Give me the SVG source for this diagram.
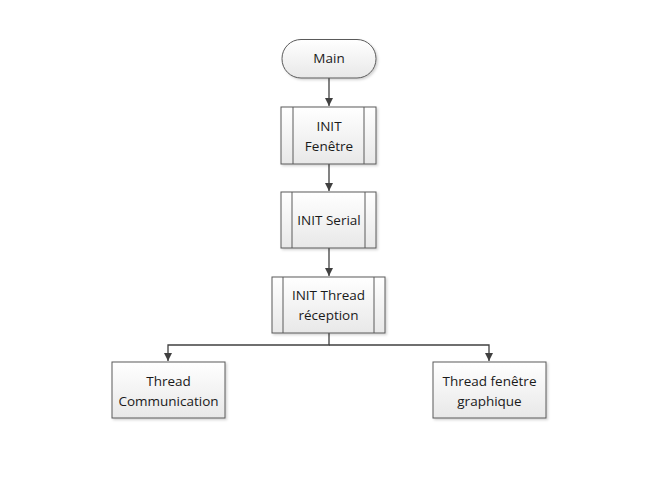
<svg xmlns="http://www.w3.org/2000/svg" width="667" height="496" viewBox="0 0 667 496">
<defs>
<linearGradient id="g" x1="0" y1="0" x2="0" y2="1">
<stop offset="0" stop-color="#ffffff"/>
<stop offset="1" stop-color="#e8e8e8"/>
</linearGradient>
<filter id="sh" x="-10%" y="-10%" width="130%" height="130%">
<feDropShadow dx="1.5" dy="1.5" stdDeviation="1" flood-color="#000" flood-opacity="0.18"/>
</filter>
<marker id="ar" markerWidth="10" markerHeight="10" refX="8" refY="4" orient="auto" markerUnits="userSpaceOnUse">
<path d="M0,0 L8,4 L0,8 Z" fill="#404040"/>
</marker>
</defs>
<style>
.box{fill:url(#g);stroke:#5a5a5a;stroke-width:1;filter:url(#sh)}
.in{stroke:#5a5a5a;stroke-width:1}
.t{font-family:"Open Sans","Liberation Sans",sans-serif;font-size:13.5px;fill:#1a1a1a;text-anchor:middle}
.c{fill:none;stroke:#404040;stroke-width:1.3}
</style>
<rect width="667" height="496" fill="#fff"/>
<g id="connectors">
<line class="c" x1="329" y1="78" x2="329" y2="106" marker-end="url(#ar)"/>
<line class="c" x1="329" y1="164" x2="329" y2="191" marker-end="url(#ar)"/>
<line class="c" x1="329" y1="248" x2="329" y2="276" marker-end="url(#ar)"/>
<polyline class="c" points="329,333 329,345 168,345 168,361" marker-end="url(#ar)"/>
<polyline class="c" points="329,345 489,345 489,361" marker-end="url(#ar)"/>
</g>
<g id="main">
<rect class="box" x="282" y="39.5" width="94" height="38.5" rx="19" ry="19"/>
<text class="t" x="329" y="63">Main</text>
</g>
<g id="init-fenetre">
<rect class="box" x="281" y="107" width="95" height="57"/>
<line class="in" x1="293" y1="107" x2="293" y2="164"/>
<line class="in" x1="364" y1="107" x2="364" y2="164"/>
<text class="t" x="329" y="131">INIT</text>
<text class="t" x="329" y="151">Fenêtre</text>
</g>
<g id="init-serial">
<rect class="box" x="281" y="192" width="95" height="56"/>
<line class="in" x1="292" y1="192" x2="292" y2="248"/>
<line class="in" x1="365" y1="192" x2="365" y2="248"/>
<text class="t" x="329" y="225">INIT Serial</text>
</g>
<g id="init-thread">
<rect class="box" x="272" y="277" width="113" height="56"/>
<line class="in" x1="283" y1="277" x2="283" y2="333"/>
<line class="in" x1="374" y1="277" x2="374" y2="333"/>
<text class="t" x="328.5" y="300">INIT Thread</text>
<text class="t" x="328.5" y="320">réception</text>
</g>
<g id="thread-comm">
<rect class="box" x="112" y="362" width="113" height="56"/>
<text class="t" x="168.5" y="386">Thread</text>
<text class="t" x="168.5" y="406">Communication</text>
</g>
<g id="thread-fenetre">
<rect class="box" x="433" y="362" width="113" height="56"/>
<text class="t" x="489.5" y="386">Thread fenêtre</text>
<text class="t" x="489.5" y="406">graphique</text>
</g>
</svg>
